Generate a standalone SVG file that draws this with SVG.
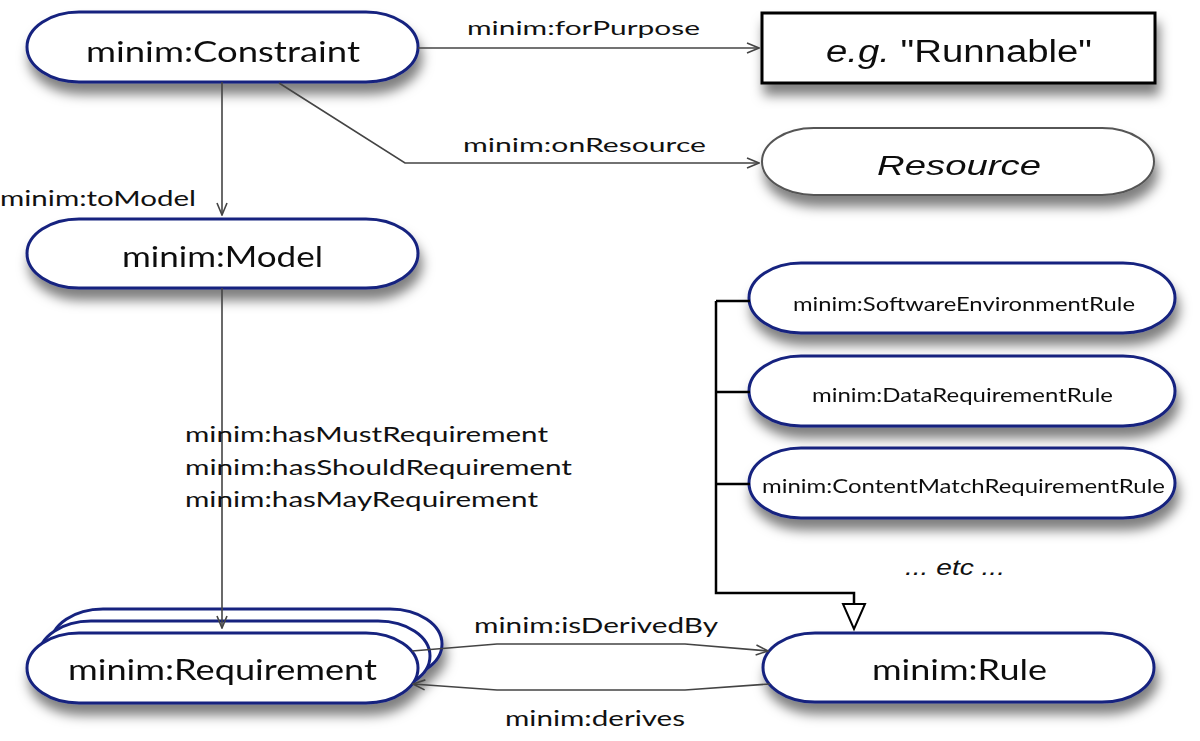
<svg xmlns="http://www.w3.org/2000/svg" width="1200" height="741" viewBox="0 0 1200 741">
<style>
.node{fill:#fff;stroke:#15237f;stroke-width:3}
.nt{font-family:Lato,"Open Sans",sans-serif;fill:#111;text-anchor:start}
.big{font-size:28px}
.lbl{font-size:22px}
.sm{font-size:20px}
.ar{font-family:"Liberation Sans",Arial,sans-serif;fill:#111}
.conn{fill:none;stroke:#444;stroke-width:1.6}
.sub{fill:none;stroke:#000;stroke-width:2.5}
</style>
<defs>
<filter id="sh" x="-10%" y="-30%" width="125%" height="180%">
<feDropShadow dx="3" dy="11" stdDeviation="6" flood-color="#000" flood-opacity="0.5"/>
</filter>
<marker id="ah" markerWidth="14" markerHeight="12" refX="13" refY="6" orient="auto" markerUnits="userSpaceOnUse">
<path d="M1,1 L13,6 L1,11" fill="none" stroke="#444" stroke-width="1.6"/>
</marker>
</defs>

<rect width="1200" height="741" fill="#fff"/>

<g id="constraint" filter="url(#sh)">
<rect class="node" x="27" y="12" width="391" height="70" rx="52" ry="35"/>
<text class="nt big" x="86" y="62" textLength="274" lengthAdjust="spacingAndGlyphs">minim:Constraint</text>
</g>

<g id="runnable" filter="url(#sh)">
<rect x="762" y="13" width="393" height="70" fill="#fff" stroke="#000" stroke-width="3"/>
<text class="ar" font-size="31" x="826" y="62" textLength="266" lengthAdjust="spacingAndGlyphs"><tspan font-style="italic">e.g.</tspan> "Runnable"</text>
</g>

<g id="resource" filter="url(#sh)">
<rect x="762" y="128" width="392" height="67" rx="52" ry="33.5" fill="#fff" stroke="#555" stroke-width="2"/>
<text class="ar" font-size="28" font-style="italic" x="877" y="175" textLength="164" lengthAdjust="spacingAndGlyphs">Resource</text>
</g>

<g id="model" filter="url(#sh)">
<rect class="node" x="27" y="219" width="391" height="69" rx="52" ry="34.5"/>
<text class="nt big" x="122" y="267" textLength="201" lengthAdjust="spacingAndGlyphs">minim:Model</text>
</g>

<g id="swenv" filter="url(#sh)">
<rect class="node" x="749" y="263" width="426" height="70" rx="52" ry="35"/>
<text class="nt sm" x="793" y="311" textLength="342" lengthAdjust="spacingAndGlyphs">minim:SoftwareEnvironmentRule</text>
</g>

<g id="datareq" filter="url(#sh)">
<rect class="node" x="749" y="356" width="426" height="70" rx="52" ry="35"/>
<text class="nt sm" x="812" y="402" textLength="301" lengthAdjust="spacingAndGlyphs">minim:DataRequirementRule</text>
</g>

<g id="contentmatch" filter="url(#sh)">
<rect class="node" x="749" y="448" width="426" height="70" rx="52" ry="35"/>
<text class="nt sm" x="762" y="493" textLength="403" lengthAdjust="spacingAndGlyphs">minim:ContentMatchRequirementRule</text>
</g>

<g id="etc">
<text class="ar" font-size="22" font-style="italic" x="905" y="575" textLength="100" lengthAdjust="spacingAndGlyphs">... etc ...</text>
</g>

<g id="requirement" filter="url(#sh)">
<rect class="node" x="51" y="609" width="391" height="70" rx="52" ry="35"/>
<rect class="node" x="39" y="621" width="391" height="70" rx="52" ry="35"/>
<rect class="node" x="27" y="633" width="391" height="70" rx="52" ry="35"/>
<text class="nt big" x="68" y="680" textLength="309" lengthAdjust="spacingAndGlyphs">minim:Requirement</text>
</g>

<g id="rule" filter="url(#sh)">
<rect class="node" x="763" y="633" width="391" height="69" rx="52" ry="34.5"/>
<text class="nt big" x="872" y="680" textLength="175" lengthAdjust="spacingAndGlyphs">minim:Rule</text>
</g>

<g id="connectors">
<path class="conn" d="M418,48 H759" marker-end="url(#ah)"/>
<path class="conn" d="M279,83 L405,163 H759" marker-end="url(#ah)"/>
<path class="conn" d="M222,82 V215" marker-end="url(#ah)"/>
<path class="conn" d="M222,288 V628" marker-end="url(#ah)"/>
<path class="conn" d="M412,651 L497,644 H685 L768,651" marker-end="url(#ah)"/>
<path class="conn" d="M770,684 L685,690 H497 L413,684" marker-end="url(#ah)"/>
<path class="sub" d="M716,301 V593 H854 V604"/>
<path class="sub" d="M716,301 H750 M716,392 H750 M716,484 H750"/>
<polygon points="843,604 865,604 854,629" fill="#fff" stroke="#000" stroke-width="2"/>
<text class="nt" font-size="20" x="467" y="35" textLength="233" lengthAdjust="spacingAndGlyphs">minim:forPurpose</text>
<text class="nt" font-size="20" x="463" y="152" textLength="243" lengthAdjust="spacingAndGlyphs">minim:onResource</text>
<text class="nt lbl" x="0" y="206" textLength="196" lengthAdjust="spacingAndGlyphs">minim:toModel</text>
<text class="nt lbl" x="185" y="442" textLength="363" lengthAdjust="spacingAndGlyphs">minim:hasMustRequirement</text>
<text class="nt lbl" x="185" y="475" textLength="387" lengthAdjust="spacingAndGlyphs">minim:hasShouldRequirement</text>
<text class="nt lbl" x="185" y="507" textLength="353" lengthAdjust="spacingAndGlyphs">minim:hasMayRequirement</text>
<text class="nt" font-size="21" x="474" y="633" textLength="244" lengthAdjust="spacingAndGlyphs">minim:isDerivedBy</text>
<text class="nt" font-size="21" x="505" y="726" textLength="180" lengthAdjust="spacingAndGlyphs">minim:derives</text>
</g>
</svg>
